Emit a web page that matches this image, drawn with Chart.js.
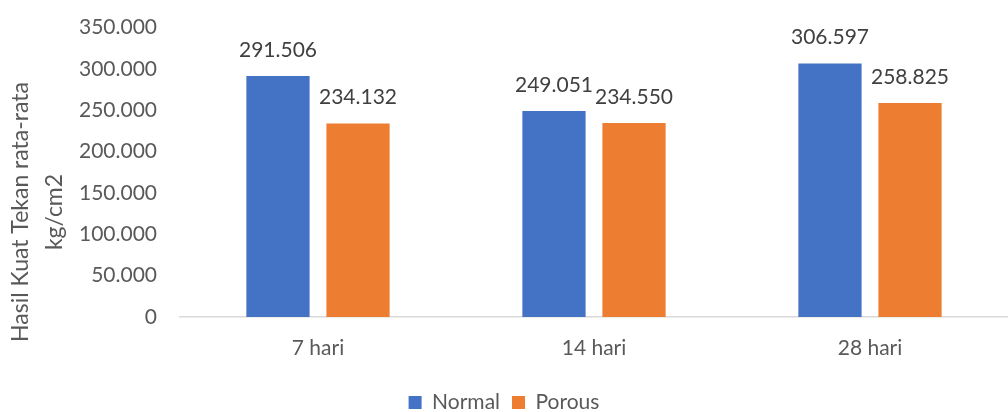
<!DOCTYPE html>
<html>
<head>
<meta charset="utf-8">
<script src="https://cdn.jsdelivr.net/npm/chart.js@4"></script>
<style>
  html, body { margin: 0; padding: 0; background: #fff; }
  #wrap { width: 1008px; height: 412px; }
</style>
</head>
<body>
<div id="wrap"><canvas id="kuat-tekan-chart"></canvas></div>
<script>
// data
const categories = ['7 hari', '14 hari', '28 hari'];
const normalData = [291.506, 249.051, 306.597];
const porousData = [234.132, 234.550, 258.825];
const yTicks = [0, 50, 100, 150, 200, 250, 300, 350];
const yTitle = ['Hasil Kuat Tekan rata-rata', 'kg/cm2'];

const fontFamily = 'Lato, "Open Sans", sans-serif';
const fmt = (v) => (v === 0 ? '0' : v.toFixed(3));

//labels on top of bars
const barLabels = {
	id: 'barLabels',
	afterDatasetsDraw(chart) {
		const c = chart.ctx;
		c.save();
		c.font = '21px ' + fontFamily;
		c.fillStyle = '#404040';
		c.textAlign = 'center';
		c.textBaseline = 'middle';
		chart.data.datasets.forEach((ds, i) => {
			chart.getDatasetMeta(i).data.forEach((bar, j) => {
				c.fillText(fmt(ds.data[j]), bar.x, bar.y - 26);
			});
		});
		c.restore();
	}
};

//rotated y axis title
const yAxisTitle = {
	id: 'yAxisTitle',
	afterDraw(chart) {
		const c = chart.ctx;
		c.save();
		c.font = '23px ' + fontFamily;
		c.fillStyle = '#595959';
		c.textAlign = 'center';
		c.textBaseline = 'middle';
		c.translate(0, 212);
		c.rotate(-Math.PI / 2);
		c.fillText(yTitle[0], 0, 21);
		c.fillText(yTitle[1], 0, 55);
		c.restore();
	}
};

const ctx = document.querySelector('#kuat-tekan-chart').getContext('2d');
const chart = new Chart(ctx, {
	type: 'bar',
	data: {
		labels: categories,
		datasets: [
			{
				label: 'Normal',
				backgroundColor: '#4472C4',
				data: normalData,
				categoryPercentage: 0.58,
				barPercentage: 0.79
			},
			{
				label: 'Porous',
				backgroundColor: '#ED7D31',
				data: porousData,
				categoryPercentage: 0.58,
				barPercentage: 0.79
			}
		]
	},
	options: {
		responsive: true,
		maintainAspectRatio: false,
		animation: false,
		layout: { padding: { top: 12, right: 0, left: 0, bottom: -11 } },
		plugins: {
			tooltip: { enabled: false },
			legend: {
				position: 'bottom',
				labels: {
					boxWidth: 13,
					boxHeight: 13,
					padding: 12,
					color: '#595959',
					font: { family: fontFamily, size: 21 }
				}
			}
		},
		scales: {
			x: {
				afterFit: (scale) => { scale.height = 63; },
				grid: { display: false },
				border: { display: true, color: '#D9D9D9', width: 1.5 },
				ticks: {
					color: '#595959',
					padding: 11,
					font: { family: fontFamily, size: 21 }
				}
			},
			y: {
				min: 0,
				max: 350,
				afterFit: (scale) => { scale.width = 180; },
				afterBuildTicks: (scale) => { scale.ticks = yTicks.map((v) => ({ value: v })); },
				grid: { display: false },
				border: { display: false },
				ticks: {
					color: '#595959',
					padding: 15,
					font: { family: fontFamily, size: 21 },
					callback: (v) => fmt(v)
				}
			}
		}
	},
	plugins: [barLabels, yAxisTitle]
});
</script>
</body>
</html>
